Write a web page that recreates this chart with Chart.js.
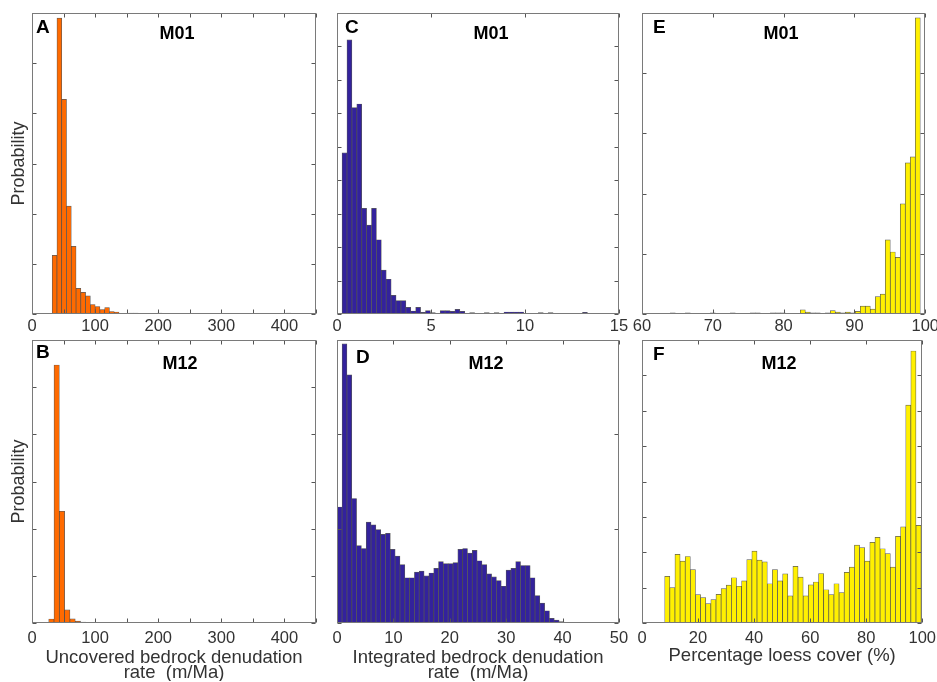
<!DOCTYPE html>
<html>
<head>
<meta charset="utf-8">
<title>Denudation rate and loess cover histograms</title>
<script src="https://cdn.jsdelivr.net/npm/chart.js@4"></script>
<style>
  html, body { margin: 0; padding: 0; background: #fff; overflow: hidden; }
  #figure { position: relative; width: 937px; height: 682px; overflow: hidden; background: #fff; }
  .panel { position: absolute; }
</style>
</head>
<body>
<div id="figure"></div>
<script>
'use strict';

// histogram heights, one value per bin (y axis has no labels, so units are tick steps)
const uncoveredM01 = [1.17, 5.9, 4.28, 2.15, 1.35, 0.51, 0.43, 0.36, 0.19, 0.15,
  0.09, 0.13, 0.05, 0.04, 0.01, 0.01, 0.02, 0.02, 0, 0,
  0, 0, 0.02, 0, 0, 0, 0, 0, 0, 0,
  0, 0, 0, 0, 0, 0, 0, 0, 0, 0,
  0, 0, 0, 0, 0, 0, 0, 0, 0, 0.02];
const uncoveredM12 = [0.085, 5.47, 2.37, 0.28, 0.09, 0.04, 0.02, 0.01, 0.005, 0,
  0, 0, 0, 0, 0, 0, 0, 0, 0, 0,
  0, 0, 0, 0, 0, 0, 0, 0, 0, 0,
  0, 0, 0, 0, 0, 0, 0, 0, 0, 0,
  0, 0, 0, 0, 0, 0, 0, 0, 0, 0];
const integratedM01 = [4.82, 8.2, 6.17, 6.28, 3.16, 2.66, 3.16, 2.22, 1.31, 1.04,
  0.56, 0.4, 0.4, 0.2, 0.09, 0.2, 0.05, 0.1, 0.04, 0,
  0.1, 0.1, 0.08, 0.14, 0.08, 0, 0.04, 0, 0, 0.04,
  0, 0.04, 0, 0.06, 0.06, 0.06, 0.06, 0, 0, 0,
  0.04, 0, 0.04, 0, 0, 0, 0, 0, 0, 0.05];
const integratedM12 = [1.23, 2.96, 2.63, 1.32, 0.82, 0.79, 1.07, 1.04, 0.99, 0.94,
  0.95, 0.78, 0.71, 0.62, 0.48, 0.48, 0.54, 0.55, 0.50, 0.53,
  0.58, 0.65, 0.63, 0.63, 0.64, 0.78, 0.79, 0.74, 0.77, 0.66,
  0.62, 0.52, 0.49, 0.45, 0.39, 0.56, 0.58, 0.65, 0.61, 0.61,
  0.48, 0.29, 0.21, 0.13, 0.05, 0.03, 0.014, 0.006, 0.003, 0.002];
const loessM01 = [0.02, 0, 0, 0.02, 0, 0, 0, 0, 0.02, 0,
  0, 0, 0.02, 0, 0, 0, 0.02, 0.02, 0, 0,
  0.02, 0.02, 0.02, 0, 0, 0, 0.07, 0.03, 0.02, 0.02,
  0, 0.02, 0.055, 0.03, 0.02, 0.03, 0.02, 0.045, 0.13, 0.13,
  0.08, 0.29, 0.33, 1.23, 1.03, 0.94, 1.83, 2.51, 2.61, 4.92];
const loessM12 = [1.32, 1.0, 1.94, 1.75, 1.88, 1.51, 0.80, 0.72, 0.55, 0.66,
  0.81, 0.97, 1.07, 1.28, 1.04, 1.19, 1.79, 2.03, 1.78, 1.73,
  1.11, 1.51, 1.19, 1.39, 0.77, 1.6, 1.3, 0.77, 1.08, 1.16,
  1.40, 0.94, 0.80, 1.11, 0.86, 1.43, 1.58, 2.2, 2.13, 1.75,
  2.28, 2.42, 2.10, 1.96, 1.58, 2.45, 2.72, 6.16, 7.69, 2.76];

// first bin edge and bin width for each histogram (A, B, C, D, E, F)
const binStarts = [32, 26.5, 0.27, 0.05, 64.0, 8.1];
const binWidths = [7.56, 8.4, 0.261, 0.855, 0.706, 1.83];

// x axis limits, tick steps and labelled tick spacing
const xMins = [0, 0, 0, 0, 60, 0];
const xMaxs = [450, 450, 15, 50, 100, 100];
const xSteps = [50, 50, 5, 10, 10, 20];
const xLabelEvery = [100, 100, 5, 10, 10, 20];

// number of (unlabelled) y tick steps per panel
const yTickCounts = [6, 6, 9, 3, 5, 8];

const panelLetters = ['A', 'B', 'C', 'D', 'E', 'F'];
const modelNames = ['M01', 'M12', 'M01', 'M12', 'M01', 'M12'];
const xTitles = [
  '',
  ['Uncovered bedrock denudation', 'rate  (m/Ma)'],
  '',
  ['Integrated bedrock denudation', 'rate  (m/Ma)'],
  '',
  'Percentage loess cover (%)'
];

const allHeights = [uncoveredM01, uncoveredM12, integratedM01, integratedM12, loessM01, loessM12];

const ORANGE = '#ff6a00';
const NAVY = '#33229c';
const YELLOW = '#fff000';
const barColors = [ORANGE, ORANGE, NAVY, NAVY, YELLOW, YELLOW];

const FONT = "'Liberation Sans', Arial, Helvetica, sans-serif";
Chart.defaults.font.family = FONT;
Chart.defaults.color = '#333';

// box of each plot area: [left, top, width, height]
const colLeft = [32, 337, 642];
const colWidth = [284, 282, 284];
const rowTop = [13, 340];
const rowHeight = [301, 283];

// where the letter and model name sit inside each box
const letterPos = [[4, 20], [4, 18], [8, 20], [19, 23], [11, 20], [11, 20]];
const modelPos = [[145, 26], [148, 29], [154, 26], [149, 29], [139, 26], [137, 29]];

function binPoints(start, width, heights) {
  return heights.map((h, i) => ({ x: start + width * (i + 0.5), y: h }));
}

// frame, inward ticks on all four sides and the panel labels
const panelFrame = {
  id: 'panelFrame',
  afterDatasetsDraw(chart, args, opts) {
    const ctx = chart.ctx;
    const a = chart.chartArea;
    const xs = chart.scales.x;
    const ys = chart.scales.y;
    const L = Math.round(a.left) + 0.5;
    const R = Math.round(a.right) - 0.5;
    const T = Math.round(a.top) + 0.5;
    const B = Math.round(a.bottom) - 0.5;
    const len = 4;

    ctx.save();
    ctx.lineWidth = 1;
    ctx.strokeStyle = '#555';
    ctx.beginPath();
    xs.ticks.forEach(t => {
      const px = Math.round(xs.getPixelForValue(t.value)) + 0.5;
      ctx.moveTo(px, B); ctx.lineTo(px, B - len);
      ctx.moveTo(px, T); ctx.lineTo(px, T + len);
    });
    ys.ticks.forEach(t => {
      const py = Math.round(ys.getPixelForValue(t.value)) + 0.5;
      ctx.moveTo(L, py); ctx.lineTo(L + len, py);
      ctx.moveTo(R, py); ctx.lineTo(R - len, py);
    });
    ctx.stroke();

    ctx.strokeStyle = '#7a7a7a';
    ctx.strokeRect(L, T, R - L, B - T);

    ctx.fillStyle = '#000';
    ctx.textBaseline = 'alphabetic';
    ctx.textAlign = 'left';
    ctx.font = 'bold 19px ' + FONT;
    ctx.fillText(opts.letter, a.left + opts.letterAt[0], a.top + opts.letterAt[1]);
    ctx.textAlign = 'center';
    ctx.font = 'bold 18px ' + FONT;
    ctx.fillText(opts.model, a.left + opts.modelAt[0], a.top + opts.modelAt[1]);
    ctx.restore();
  }
};

const figureElem = document.getElementById('figure');

function drawPanel(i) {
  const col = Math.floor(i / 2);
  const row = i % 2;
  const yAxisW = col === 0 ? 32 : 20;
  const padTop = 5;
  const padRight = 16;
  const xAxisH = row === 0 ? 26 : 58;

  const wrap = document.createElement('div');
  wrap.className = 'panel';
  wrap.style.left = (colLeft[col] - yAxisW) + 'px';
  wrap.style.top = (rowTop[row] - padTop) + 'px';
  wrap.style.width = (yAxisW + colWidth[col] + padRight) + 'px';
  wrap.style.height = (padTop + rowHeight[row] + xAxisH) + 'px';
  const canvas = document.createElement('canvas');
  wrap.appendChild(canvas);
  figureElem.appendChild(wrap);

  const twoLine = Array.isArray(xTitles[i]);

  new Chart(canvas.getContext('2d'), {
    type: 'bar',
    data: {
      datasets: [{
        data: binPoints(binStarts[i], binWidths[i], allHeights[i]),
        backgroundColor: barColors[i],
        borderColor: 'rgba(60, 60, 60, 0.85)',
        borderWidth: 0.7,
        borderSkipped: 'bottom',
        barPercentage: 1,
        categoryPercentage: 1
      }]
    },
    options: {
      responsive: true,
      maintainAspectRatio: false,
      animation: false,
      layout: { padding: { top: padTop, right: padRight, left: 0, bottom: 0 } },
      plugins: {
        legend: { display: false },
        tooltip: { enabled: false },
        panelFrame: {
          letter: panelLetters[i],
          model: modelNames[i],
          letterAt: letterPos[i],
          modelAt: modelPos[i]
        }
      },
      scales: {
        x: {
          type: 'linear',
          offset: false,
          min: xMins[i],
          max: xMaxs[i],
          grid: { display: false, drawTicks: false },
          border: { display: false },
          ticks: {
            stepSize: xSteps[i],
            padding: row === 0 ? 3 : 6,
            maxRotation: 0,
            autoSkip: false,
            color: '#333',
            font: { size: 16.5 },
            callback: v => (v % xLabelEvery[i] === 0 ? String(v) : '')
          },
          title: {
            display: xTitles[i] !== '',
            text: xTitles[i],
            color: '#333',
            font: { size: 18.5, lineHeight: 0.83 },
            padding: { top: 0, bottom: twoLine ? 0 : 17 }
          },
          afterFit: s => { s.height = xAxisH; }
        },
        y: {
          min: 0,
          max: yTickCounts[i],
          grid: { display: false, drawTicks: false },
          border: { display: false },
          ticks: { display: false, stepSize: 1 },
          title: {
            display: col === 0,
            text: 'Probability',
            color: '#333',
            font: { size: 18 },
            padding: { top: 8, bottom: 0 }
          },
          afterFit: s => { s.width = yAxisW; }
        }
      }
    },
    plugins: [panelFrame]
  });
}

for (let i = 0; i < 6; i++) {
  drawPanel(i);
}
</script>
</body>
</html>
